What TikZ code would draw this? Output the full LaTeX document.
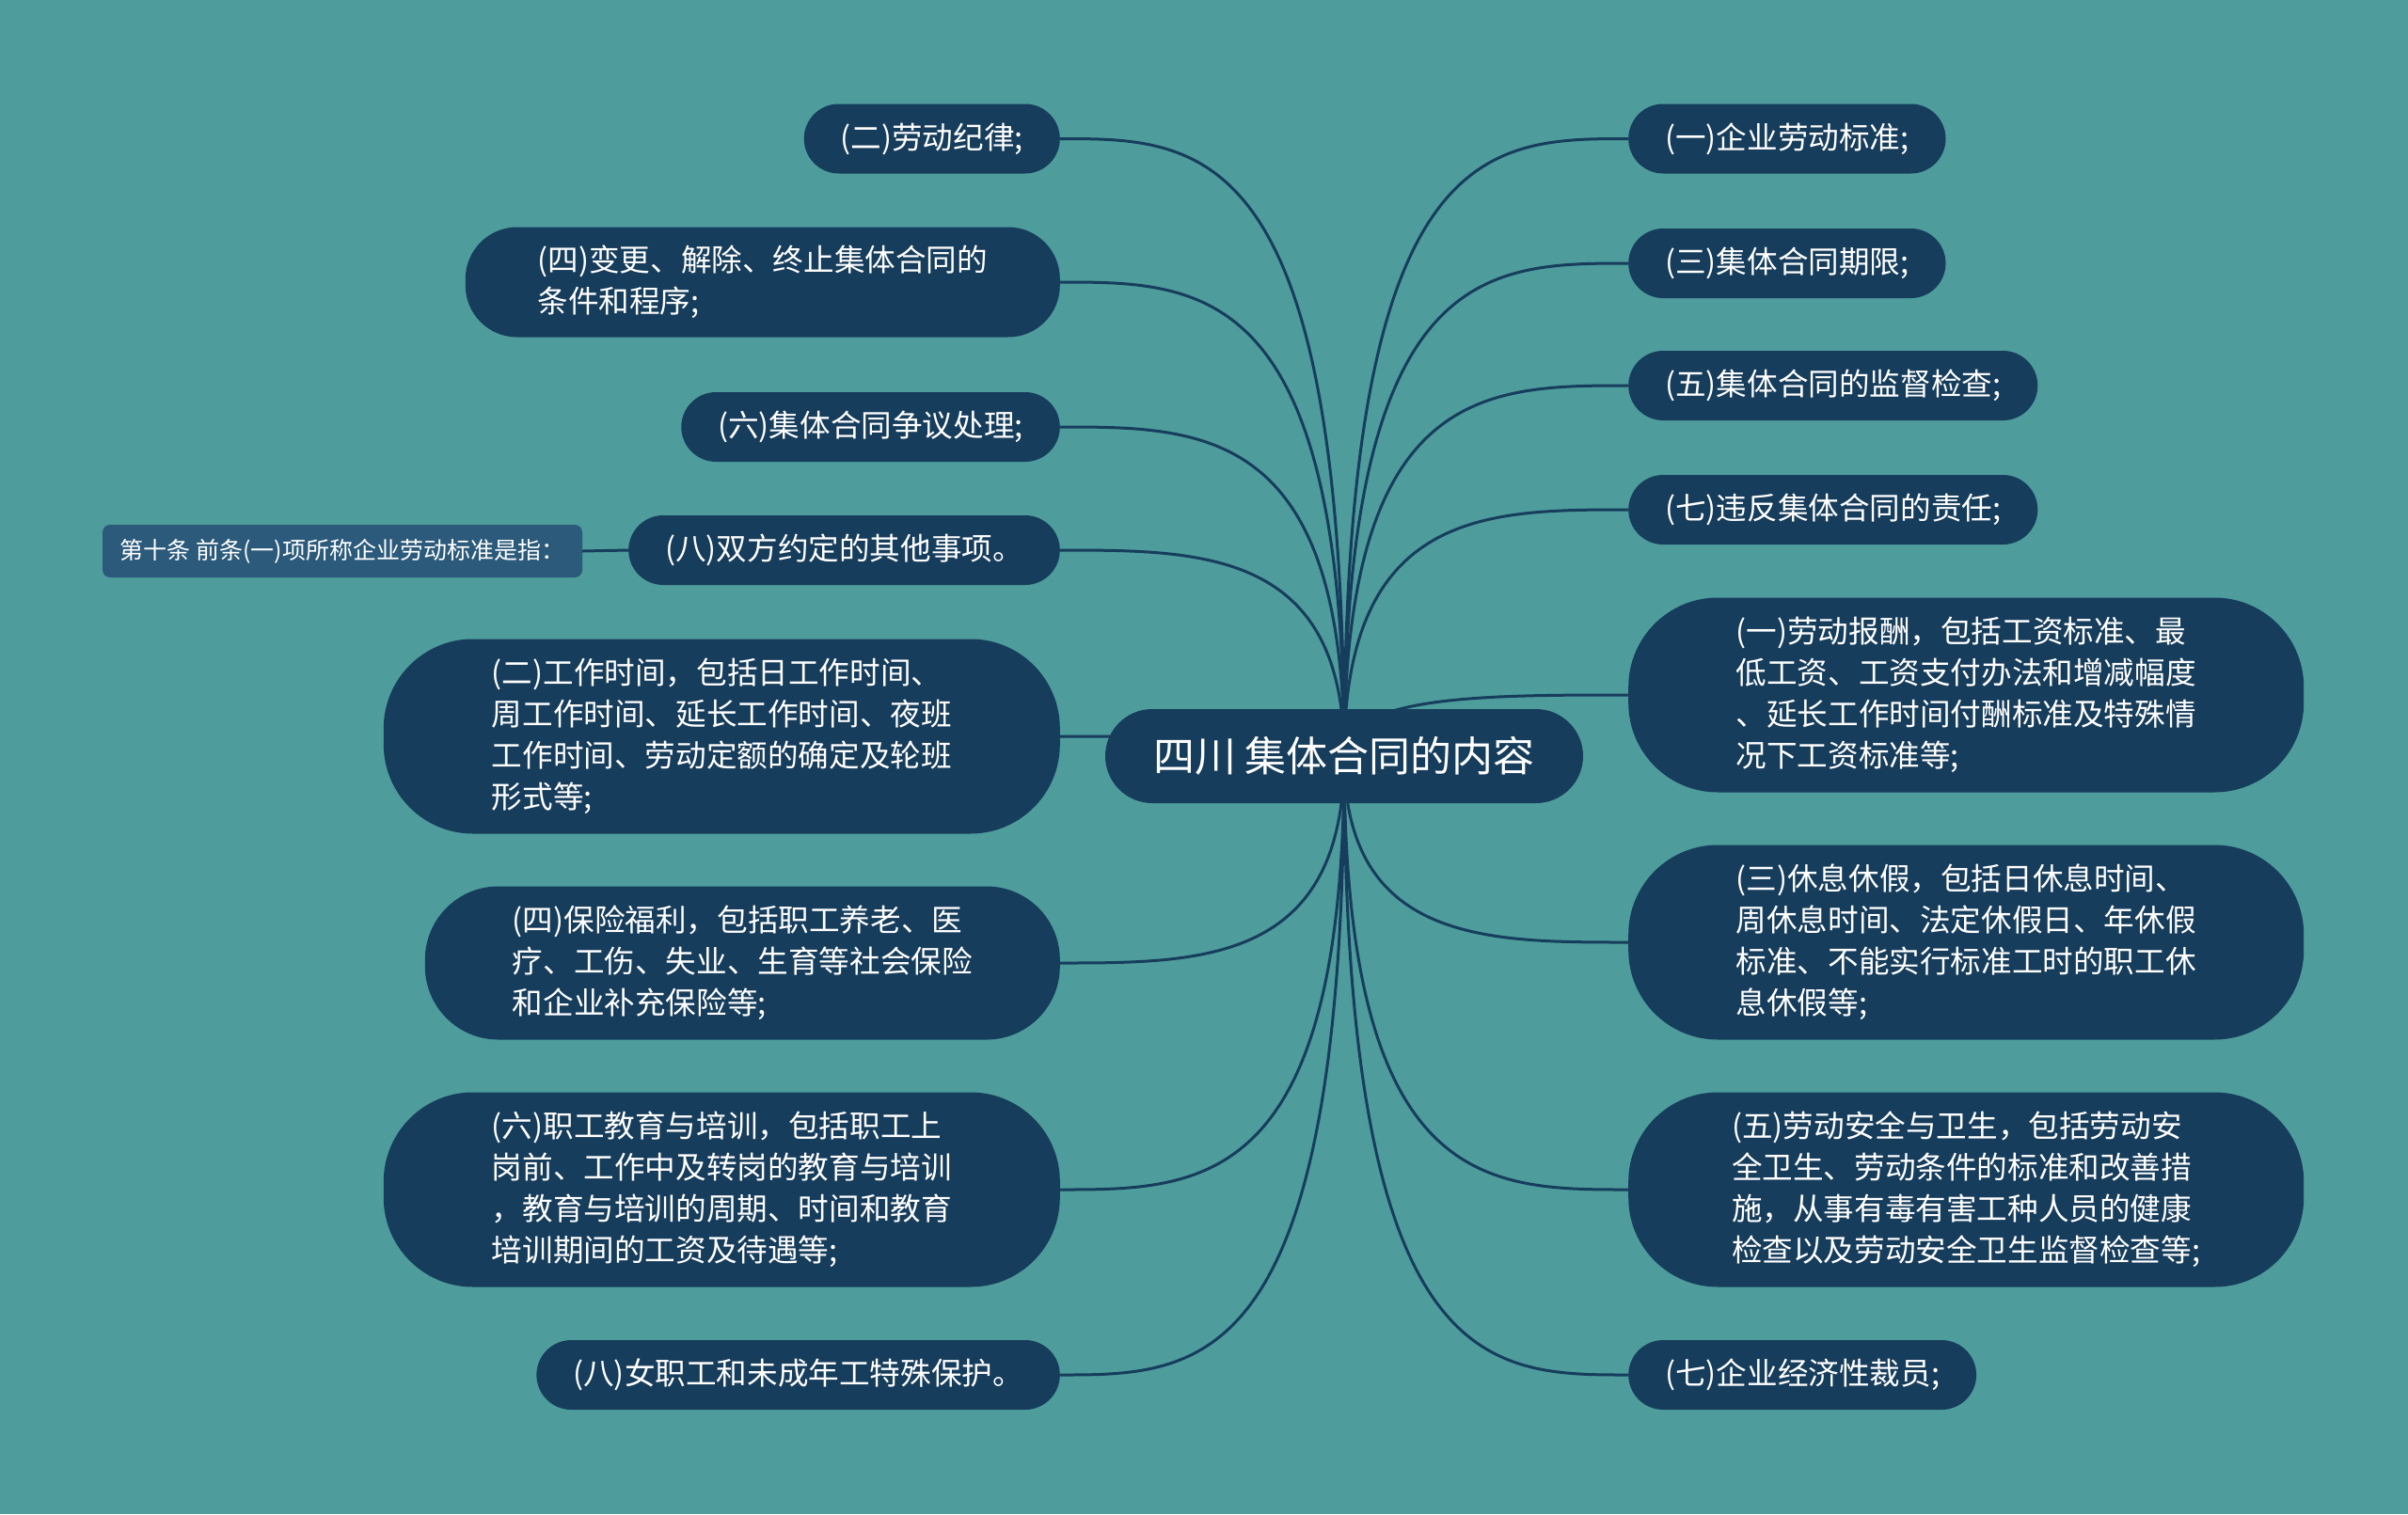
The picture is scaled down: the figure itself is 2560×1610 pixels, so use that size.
\documentclass[tikz,border=0pt]{standalone}
\usepackage{fontspec}
\setmainfont{Noto Sans CJK SC}
\usetikzlibrary{calc,backgrounds}
\definecolor{bgc}{HTML}{4E9C9C}
\definecolor{nodec}{HTML}{173D5C}
\definecolor{leafc}{HTML}{2C5A7B}
\begin{document}
\begin{tikzpicture}[x=1pt,y=-1pt,
  box/.style={fill=nodec, text=white, font=\fontsize{32.6}{44}\selectfont, inner ysep=0pt, align=left},
  one/.style={box, inner xsep=39pt, minimum height=74pt, rounded corners=37pt},
  two/.style={box, minimum height=117pt, rounded corners=55pt},
  three/.style={box, minimum height=163pt, rounded corners=78pt},
  four/.style={box, minimum height=207pt, rounded corners=95pt},
  rootbox/.style={fill=nodec, text=white, font=\fontsize{44}{52}\selectfont, minimum width=508pt, minimum height=100pt, rounded corners=50pt},
  leafbox/.style={fill=leafc, text=white, font=\fontsize{25}{30}\selectfont, minimum width=510pt, minimum height=56pt, inner xsep=0pt, rounded corners=8pt},
  conn/.style={draw=nodec, line width=3pt}]
\useasboundingbox (0,0) rectangle (2560,1610);

\node[rootbox] (root) at (1429,804) {四川 集体合同的内容};

% left side
\node[one, anchor=east] (L1) at (1127,147.5) {(二)劳动纪律;};
\node[two, anchor=east, minimum width=632pt] (L2) at (1127,300) {(四)变更、解除、终止集体合同的\\条件和程序;};
\node[one, anchor=east] (L3) at (1127,454) {(六)集体合同争议处理;};
\node[one, anchor=east] (L4) at (1127,585) {(八)双方约定的其他事项。};
\node[four, anchor=east, minimum width=719pt] (L5) at (1127,783) {(二)工作时间，包括日工作时间、\\周工作时间、延长工作时间、夜班\\工作时间、劳动定额的确定及轮班\\形式等;};
\node[three, anchor=east, minimum width=675pt] (L6) at (1127,1024) {(四)保险福利，包括职工养老、医\\疗、工伤、失业、生育等社会保险\\和企业补充保险等;};
\node[four, anchor=east, minimum width=719pt] (L7) at (1127,1265) {(六)职工教育与培训，包括职工上\\岗前、工作中及转岗的教育与培训\\，教育与培训的周期、时间和教育\\培训期间的工资及待遇等;};
\node[one, anchor=east] (L8) at (1127,1462) {(八)女职工和未成年工特殊保护。};

\node[leafbox] (leaf) at (364,586) {第十条 前条(一)项所称企业劳动标准是指：};

% right side
\node[one, anchor=west] (R1) at (1731,147.5) {(一)企业劳动标准;};
\node[one, anchor=west] (R2) at (1731,280) {(三)集体合同期限;};
\node[one, anchor=west] (R3) at (1731,410) {(五)集体合同的监督检查;};
\node[one, anchor=west] (R4) at (1731,542) {(七)违反集体合同的责任;};
\node[four, anchor=west, minimum width=718pt] (R5) at (1731,739) {(一)劳动报酬，包括工资标准、最\\低工资、工资支付办法和增减幅度\\、延长工作时间付酬标准及特殊情\\况下工资标准等;};
\node[four, anchor=west, minimum width=718pt] (R6) at (1731,1002) {(三)休息休假，包括日休息时间、\\周休息时间、法定休假日、年休假\\标准、不能实行标准工时的职工休\\息休假等;};
\node[four, anchor=west, minimum width=718pt] (R7) at (1731,1265) {(五)劳动安全与卫生，包括劳动安\\全卫生、劳动条件的标准和改善措\\施，从事有毒有害工种人员的健康\\检查以及劳动安全卫生监督检查等;};
\node[one, anchor=west] (R8) at (1731,1462) {(七)企业经济性裁员;};

\begin{pgfonlayer}{background}
\fill[bgc] (0,0) rectangle (2560,1610);
\foreach \n in {L1,L2,L3,L4,L5,L6,L7,L8}
  \draw[conn] (root.center) .. controls (root.center |- \n.east) and ($(root.center |- \n.east)!0.5!(\n.east)$) .. (\n.east);
\foreach \n in {R1,R2,R3,R4,R5,R6,R7,R8}
  \draw[conn] (root.center) .. controls (root.center |- \n.west) and ($(root.center |- \n.west)!0.5!(\n.west)$) .. (\n.west);
\draw[conn] (leaf.east) -- (L4.west);
\end{pgfonlayer}
\end{tikzpicture}
\end{document}
